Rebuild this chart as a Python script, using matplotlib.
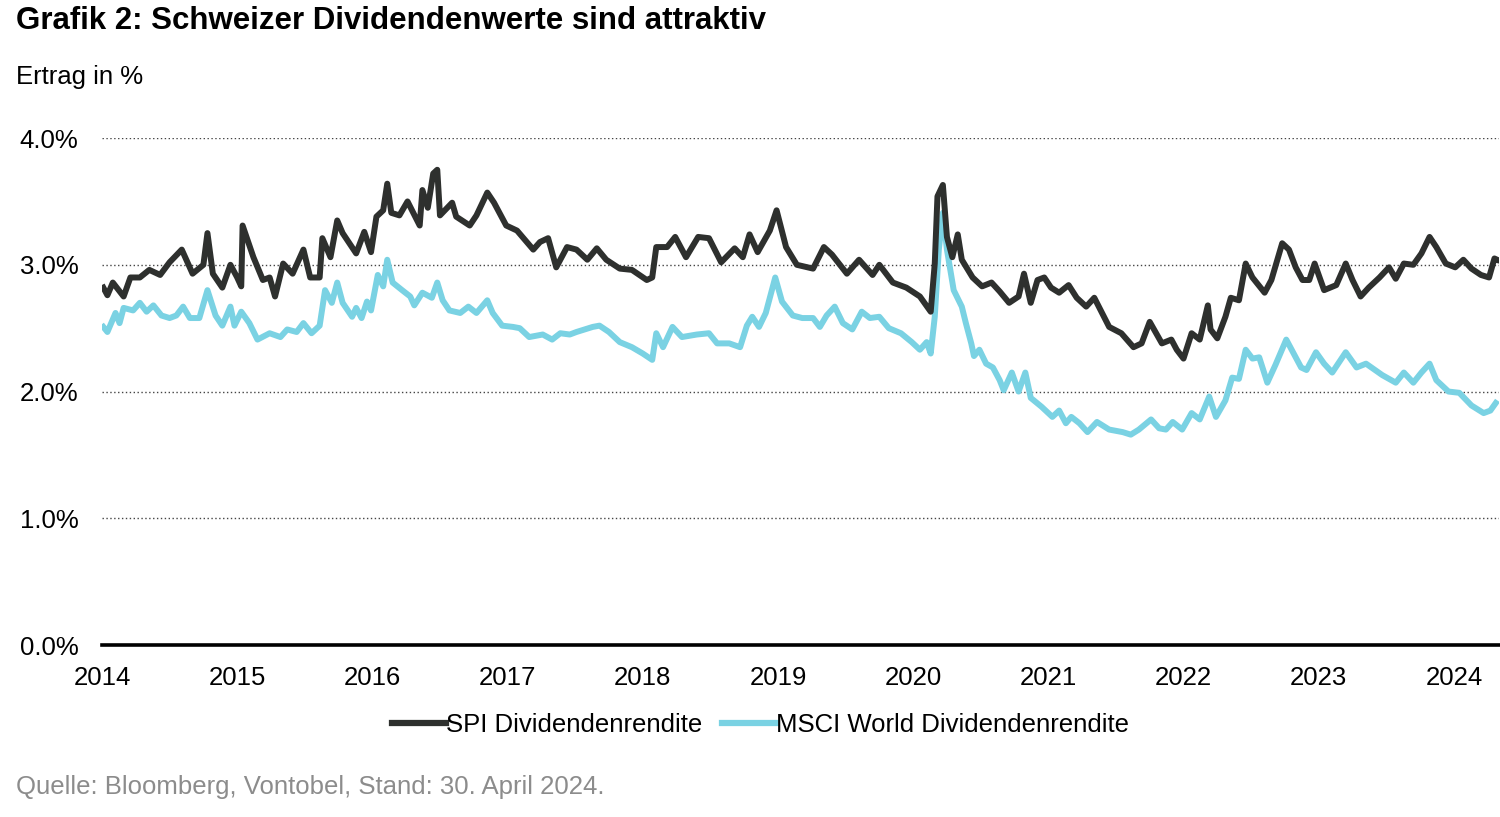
import matplotlib
matplotlib.use("Agg")
import matplotlib.pyplot as plt
import numpy as np

# ---------------------------------------------------------------------------
# Daten (Dezimaljahr / Rendite in %)
# ---------------------------------------------------------------------------
spi_t = [
    2014.01, 2014.04, 2014.08, 2014.16, 2014.21, 2014.28, 2014.35, 2014.43, 2014.50, 2014.59,
    2014.67, 2014.75, 2014.78, 2014.82, 2014.89, 2014.95, 2015.00, 2015.03, 2015.04, 2015.12,
    2015.19, 2015.24, 2015.28, 2015.34, 2015.41, 2015.49, 2015.54, 2015.61, 2015.63, 2015.69,
    2015.74, 2015.78, 2015.88, 2015.94, 2015.99, 2016.03, 2016.08, 2016.11, 2016.14, 2016.20,
    2016.26, 2016.35, 2016.37, 2016.41, 2016.45, 2016.48, 2016.50, 2016.59, 2016.62, 2016.72,
    2016.77, 2016.85, 2016.90, 2016.99, 2017.07, 2017.19, 2017.24, 2017.30, 2017.36, 2017.44,
    2017.51, 2017.59, 2017.66, 2017.73, 2017.83, 2017.92, 2018.03, 2018.07, 2018.10, 2018.18,
    2018.24, 2018.32, 2018.41, 2018.49, 2018.58, 2018.68, 2018.74, 2018.79, 2018.85, 2018.94,
    2018.99, 2019.06, 2019.14, 2019.26, 2019.34, 2019.40, 2019.51, 2019.60, 2019.70, 2019.75,
    2019.85, 2019.95, 2020.05, 2020.13, 2020.16, 2020.18, 2020.22, 2020.25, 2020.29, 2020.33,
    2020.36, 2020.44, 2020.51, 2020.58, 2020.64, 2020.71, 2020.78, 2020.82, 2020.87, 2020.92,
    2020.97, 2021.02, 2021.08, 2021.15, 2021.21, 2021.28, 2021.34, 2021.45, 2021.54, 2021.63,
    2021.69, 2021.75, 2021.84, 2021.91, 2021.95, 2022.00, 2022.06, 2022.12, 2022.18, 2022.20,
    2022.25, 2022.31, 2022.35, 2022.41, 2022.46, 2022.51, 2022.60, 2022.65, 2022.73, 2022.78,
    2022.83, 2022.88, 2022.93, 2022.97, 2023.04, 2023.13, 2023.20, 2023.25, 2023.31, 2023.37,
    2023.45, 2023.52, 2023.57, 2023.63, 2023.70, 2023.76, 2023.82, 2023.87, 2023.94, 2024.01,
    2024.07, 2024.13, 2024.20, 2024.26, 2024.30, 2024.32,
]
spi_v = [
    2.82, 2.76, 2.86, 2.75, 2.90, 2.90, 2.96, 2.92, 3.02, 3.12,
    2.93, 3.00, 3.25, 2.93, 2.82, 3.00, 2.90, 2.83, 3.31, 3.06,
    2.88, 2.90, 2.75, 3.01, 2.93, 3.12, 2.90, 2.90, 3.21, 3.06,
    3.35, 3.25, 3.09, 3.26, 3.10, 3.38, 3.43, 3.64, 3.41, 3.39,
    3.50, 3.31, 3.59, 3.45, 3.72, 3.75, 3.39, 3.49, 3.38, 3.31,
    3.39, 3.57, 3.49, 3.31, 3.27, 3.12, 3.18, 3.21, 2.98, 3.14,
    3.12, 3.04, 3.13, 3.04, 2.97, 2.96, 2.88, 2.90, 3.14, 3.14,
    3.22, 3.06, 3.22, 3.21, 3.02, 3.13, 3.06, 3.24, 3.10, 3.27,
    3.43, 3.14, 3.00, 2.97, 3.14, 3.08, 2.93, 3.04, 2.92, 3.00,
    2.86, 2.82, 2.75, 2.63, 3.01, 3.54, 3.63, 3.22, 3.06, 3.24,
    3.04, 2.90, 2.83, 2.86, 2.79, 2.70, 2.75, 2.93, 2.70, 2.88,
    2.90, 2.82, 2.78, 2.84, 2.74, 2.67, 2.74, 2.51, 2.46, 2.35,
    2.38, 2.55, 2.38, 2.41, 2.33, 2.26, 2.46, 2.41, 2.68, 2.49,
    2.42, 2.59, 2.74, 2.72, 3.01, 2.90, 2.78, 2.88, 3.17, 3.12,
    2.98, 2.88, 2.88, 3.01, 2.80, 2.84, 3.01, 2.88, 2.75, 2.82,
    2.90, 2.98, 2.89, 3.01, 3.00, 3.09, 3.22, 3.14, 3.01, 2.98,
    3.04, 2.97, 2.92, 2.90, 3.05, 3.04,
]

msci_t = [
    2014.01, 2014.04, 2014.10, 2014.13, 2014.16, 2014.23, 2014.28, 2014.33, 2014.38, 2014.44,
    2014.50, 2014.55, 2014.60, 2014.65, 2014.72, 2014.78, 2014.84, 2014.89, 2014.95, 2014.98,
    2015.03, 2015.09, 2015.15, 2015.24, 2015.32, 2015.37, 2015.44, 2015.49, 2015.55, 2015.61,
    2015.65, 2015.70, 2015.74, 2015.78, 2015.85, 2015.88, 2015.92, 2015.96, 2015.99, 2016.04,
    2016.08, 2016.11, 2016.15, 2016.22, 2016.28, 2016.31, 2016.37, 2016.44, 2016.48, 2016.52,
    2016.57, 2016.65, 2016.71, 2016.77, 2016.85, 2016.89, 2016.96, 2017.04, 2017.09, 2017.16,
    2017.26, 2017.33, 2017.39, 2017.46, 2017.51, 2017.63, 2017.68, 2017.75, 2017.83, 2017.92,
    2018.00, 2018.07, 2018.10, 2018.15, 2018.22, 2018.29, 2018.40, 2018.49, 2018.55, 2018.64,
    2018.72, 2018.77, 2018.81, 2018.86, 2018.91, 2018.98, 2019.03, 2019.11, 2019.18, 2019.26,
    2019.31, 2019.36, 2019.42, 2019.48, 2019.55, 2019.62, 2019.68, 2019.75, 2019.82, 2019.91,
    2019.99, 2020.05, 2020.10, 2020.13, 2020.16, 2020.19, 2020.22, 2020.25, 2020.30, 2020.36,
    2020.39, 2020.43, 2020.45, 2020.49, 2020.54, 2020.59, 2020.64, 2020.67, 2020.73, 2020.78,
    2020.83, 2020.87, 2020.95, 2021.03, 2021.08, 2021.13, 2021.17, 2021.23, 2021.29, 2021.36,
    2021.45, 2021.55, 2021.61, 2021.67, 2021.76, 2021.82, 2021.87, 2021.92, 2021.99, 2022.06,
    2022.12, 2022.19, 2022.24, 2022.31, 2022.36, 2022.41, 2022.46, 2022.51, 2022.56, 2022.62,
    2022.68, 2022.76, 2022.80, 2022.87, 2022.91, 2022.98, 2023.04, 2023.10, 2023.20, 2023.28,
    2023.35, 2023.39, 2023.47, 2023.57, 2023.63, 2023.70, 2023.76, 2023.82, 2023.87, 2023.96,
    2024.04, 2024.13, 2024.22, 2024.27, 2024.31,
]
msci_v = [
    2.51, 2.47, 2.62, 2.54, 2.66, 2.64, 2.70, 2.63, 2.68, 2.60,
    2.58, 2.60, 2.67, 2.58, 2.58, 2.80, 2.60, 2.52, 2.67, 2.52,
    2.63, 2.54, 2.41, 2.46, 2.43, 2.49, 2.47, 2.54, 2.46, 2.52,
    2.80, 2.70, 2.86, 2.70, 2.59, 2.66, 2.58, 2.71, 2.64, 2.92,
    2.83, 3.04, 2.86, 2.80, 2.75, 2.68, 2.78, 2.74, 2.86, 2.72,
    2.64, 2.62, 2.67, 2.62, 2.72, 2.62, 2.52, 2.51, 2.50, 2.43,
    2.45, 2.41, 2.46, 2.45, 2.47, 2.51, 2.52, 2.47, 2.39, 2.35,
    2.30, 2.25, 2.46, 2.35, 2.51, 2.43, 2.45, 2.46, 2.38, 2.38,
    2.35, 2.52, 2.59, 2.51, 2.62, 2.90, 2.71, 2.60, 2.58, 2.58,
    2.51, 2.60, 2.67, 2.54, 2.49, 2.63, 2.58, 2.59, 2.50, 2.46,
    2.39, 2.33, 2.39, 2.30, 2.59, 3.12, 3.41, 3.12, 2.80, 2.67,
    2.54, 2.38, 2.28, 2.33, 2.22, 2.19, 2.09, 2.01, 2.15, 2.00,
    2.15, 1.95, 1.88, 1.80, 1.85, 1.75, 1.80, 1.75, 1.68, 1.76,
    1.70, 1.68, 1.66, 1.70, 1.78, 1.71, 1.70, 1.76, 1.70, 1.83,
    1.78, 1.96, 1.80, 1.93, 2.11, 2.10, 2.33, 2.26, 2.27, 2.07,
    2.21, 2.41, 2.33, 2.19, 2.17, 2.31, 2.22, 2.15, 2.31, 2.19,
    2.22, 2.19, 2.13, 2.07, 2.15, 2.07, 2.15, 2.22, 2.09, 2.00,
    1.99, 1.89, 1.83, 1.85, 1.91,
]

years = list(range(2014, 2025))
y_ticks = [0, 1, 2, 3, 4]

SPI_COLOR = "#2e302e"
MSCI_COLOR = "#7ad2e3"
FS = 18.5

plt.rcParams["font.family"] = ["Liberation Sans", "DejaVu Sans"]

fig = plt.figure(figsize=(15, 8.17), dpi=100)
ax = fig.add_axes([0.068, 0.2105, 0.931, 0.6205])

ax.plot(spi_t, spi_v, color=SPI_COLOR, linewidth=4.3, solid_joinstyle="round",
        label="SPI Dividendenrendite", zorder=3)
ax.plot(msci_t, msci_v, color=MSCI_COLOR, linewidth=4.3, solid_joinstyle="round",
        label="MSCI World Dividendenrendite", zorder=2)

ax.set_xlim(2014, 2024.33)
ax.set_ylim(0, 4)
ax.set_xticks(years)
ax.set_xticklabels([str(y) for y in years], fontsize=FS)
ax.set_yticks(y_ticks)
ax.set_yticklabels([f"{v:.1f}%" for v in y_ticks], fontsize=FS)
ax.tick_params(axis="both", length=0)
ax.tick_params(axis="x", pad=15)
ax.tick_params(axis="y", pad=17)

for v in y_ticks[1:]:
    ax.axhline(v, color="#444444", linewidth=1.0, linestyle=(0, (1, 1.8)), zorder=1)
ax.axhline(0, color="black", linewidth=2.6, zorder=4, clip_on=False)

for side in ("top", "right", "left", "bottom"):
    ax.spines[side].set_visible(False)

fig.text(0.011, 0.974, "Grafik 2: Schweizer Dividendenwerte sind attraktiv",
         fontsize=22.5, fontweight="bold", va="center", ha="left")
fig.text(0.011, 0.906, "Ertrag in %", fontsize=FS, va="center", ha="left")
fig.text(0.011, 0.037, "Quelle: Bloomberg, Vontobel, Stand: 30. April 2024.",
         fontsize=FS, va="center", ha="left", color="#8c8c8c")

leg = fig.legend(loc="center", bbox_to_anchor=(0.507, 0.113), ncol=2, frameon=False,
                 fontsize=FS, handlelength=2.1, handletextpad=0.0, columnspacing=0.8)
for line in leg.get_lines():
    line.set_linewidth(4.5)

fig.savefig("out.png", dpi=100)
